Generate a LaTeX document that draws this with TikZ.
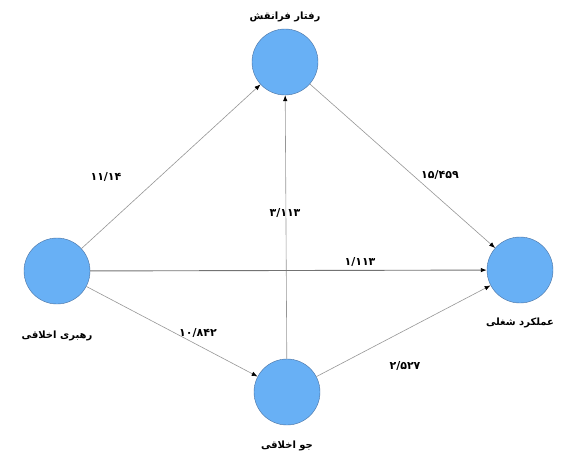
\documentclass[tikz,border=0pt]{standalone}
\usepackage{fontspec}
\usepackage{tikz}
\usetikzlibrary{arrows.meta}
\newfontfamily\arabicfont[Script=Arabic]{DejaVu Sans}
\TeXXeTstate=1
\definecolor{varblue}{RGB}{104,176,245}
\definecolor{rimblue}{RGB}{72,112,160}
\definecolor{linkgray}{RGB}{150,150,150}
\tikzset{
    var/.style={circle, fill=varblue, draw=rimblue, minimum size=66pt, inner sep=0pt},
    link/.style={draw=linkgray, line width=0.6pt, -{Latex[length=6pt,width=4.5pt,color=black]}},
    varname/.style={font=\arabicfont\bfseries\fontsize{10}{12}\selectfont},
    coef/.style={font=\arabicfont\bfseries\fontsize{11}{13}\selectfont}
}

\begin{document}
\begin{tikzpicture}[x=1pt,y=-1pt]
            \useasboundingbox (0,0) rectangle (568,459);
            \node[var] (role) at (285,62) {};
            \node[var] (lead) at (57,271) {};
            \node[var] (perf) at (520,270) {};
            \node[var] (clim) at (287,392) {};
            \node[varname] (roletxt) at (285,17) {\beginR رفتار فرانقش\endR};
            \node[varname] (leadtxt) at (57,336) {\beginR رهبری اخلاقی\endR};
            \node[varname] (perftxt) at (520,323) {\beginR عملکرد شغلی\endR};
            \node[varname] (climtxt) at (287,446) {\beginR جو اخلاقی\endR};
            \draw[link] (lead) -- (role);
            \draw[link] (clim) -- (role);
            \draw[link] (role) -- (perf);
            \draw[link, draw=gray!90!black, line width=0.9pt] (lead) -- (perf);
            \draw[link] (lead) -- (clim);
            \draw[link] (clim) -- (perf);
            \node[coef] (c1) at (106,177) {۱۱/۱۴};
            \node[coef] (c2) at (285,213) {۳/۱۱۳};
            \node[coef] (c3) at (440,175) {۱۵/۴۵۹};
            \node[coef] (c4) at (360,262) {۱/۱۱۳};
            \node[coef] (c5) at (198,333) {۱۰/۸۴۲};
            \node[coef] (c6) at (405,366) {۲/۵۲۷};
        \end{tikzpicture}
\end{document}
